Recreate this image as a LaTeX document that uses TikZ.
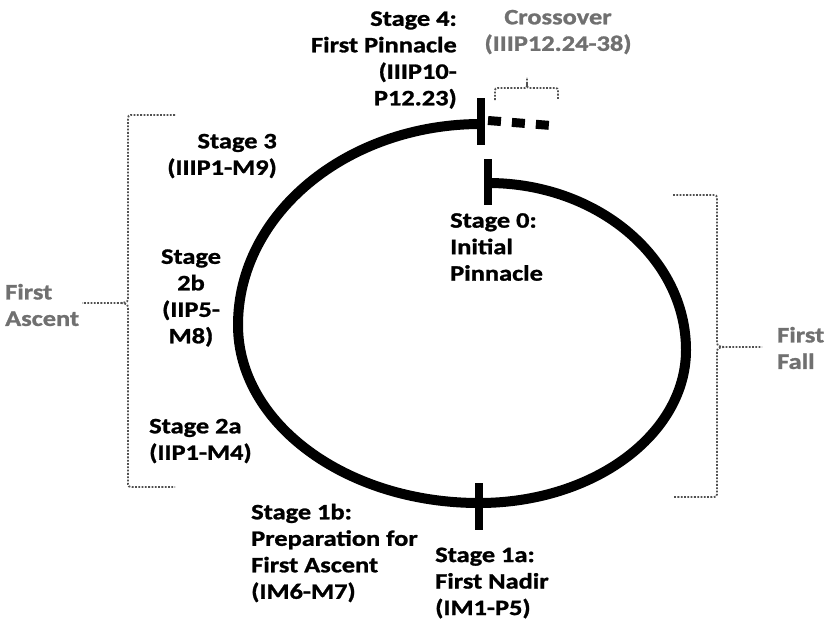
\documentclass[tikz,border=0pt]{standalone}
\usepackage{fontspec}
\setmainfont[FakeStretch=1.2,BoldFeatures={FakeBold=1.2}]{Carlito}
\definecolor{labgray}{RGB}{112,112,112}
\definecolor{bracegray}{RGB}{80,80,80}
\begin{document}
\begin{tikzpicture}[x=1pt,y=-1pt,
  lbl/.style={inner sep=0pt,font=\bfseries\fontsize{22}{26.5}\selectfont},
  glbl/.style={lbl,text=labgray},
  loop/.style={line width=10pt,line join=round},
  tick/.style={line width=8pt},
  brace/.style={draw=bracegray,line width=1.8pt,dash pattern=on 1.8pt off 1.5pt}]
\useasboundingbox[fill=white] (0,0) rectangle (827,621);

% main loop
\draw[loop] (488,183) arc[start angle=-90,end angle=0,x radius=198,y radius=167]
  arc[start angle=0,end angle=90,x radius=207,y radius=153]
  arc[start angle=90,end angle=180,x radius=241,y radius=178]
  arc[start angle=180,end angle=270,x radius=243,y radius=201];

% ticks
\coordinate (t4a) at (481,98);  \coordinate (t4b) at (481,145);
\coordinate (t0a) at (488,159); \coordinate (t0b) at (488,205);
\coordinate (t1a) at (479,483); \coordinate (t1b) at (479,530);
\draw[tick] (t4a) -- (t4b);
\draw[tick] (t0a) -- (t0b);
\draw[tick] (t1a) -- (t1b);

% dashed crossover
\coordinate (cs) at (488,120.5); \coordinate (ce) at (551,125.5);
\draw[line width=9pt,dash pattern=on 13pt off 11pt] (cs) -- (ce);

% braces
\draw[brace] (175,115) -- (134,115) .. controls (128,115) .. (128,121) -- (128,296)
  .. controls (128,302) .. (121,303) -- (82,303);
\draw[brace] (121,303) .. controls (128,304) .. (128,310) -- (128,481)
  .. controls (128,487) .. (134,487) -- (175,487);
\draw[brace] (673,195) -- (711,195) .. controls (717,195) .. (717,201) -- (717,340)
  .. controls (717,346) .. (724,347) -- (762,347);
\draw[brace] (724,347) .. controls (717,348) .. (717,354) -- (717,491)
  .. controls (717,497) .. (711,497) -- (673,497);
\draw[brace] (495,100) -- (495,93) .. controls (495,88) .. (500,88) -- (522,88)
  .. controls (527,88) .. (527,83) -- (527,77);
\draw[brace] (527,83) .. controls (527,88) .. (532,88) -- (553,88)
  .. controls (558,88) .. (558,93) -- (558,100);

% labels
\node[lbl,align=right,anchor=east] (s4) at (457,60) {Stage 4:\\First Pinnacle\\(IIIP10-\\P12.23)};
\node[glbl,align=center] (cross) at (558,32) {Crossover\\(IIIP12.24-38)};
\node[lbl,align=right,anchor=east] (s3) at (277,156) {Stage 3\\(IIIP1-M9)};
\node[lbl,align=center] (s2b) at (191,298) {Stage\\2b\\(IIP5-\\M8)};
\node[lbl,align=left,anchor=west] (s2a) at (149,441) {Stage 2a\\(IIP1-M4)};
\node[lbl,align=left,anchor=west] (s1b) at (251,553) {Stage 1b:\\Preparation for\\First Ascent\\(IM6-M7)};
\node[lbl,align=left,anchor=west] (s1a) at (435,583) {Stage 1a:\\First Nadir\\(IM1-P5)};
\node[lbl,align=left,anchor=west] (s0) at (450,247) {Stage 0:\\Initial\\Pinnacle};
\node[glbl,align=left,anchor=west] (fa) at (5,305) {First\\Ascent};
\node[glbl,align=left,anchor=west] (ff) at (777,348) {First\\Fall};
\end{tikzpicture}
\end{document}
